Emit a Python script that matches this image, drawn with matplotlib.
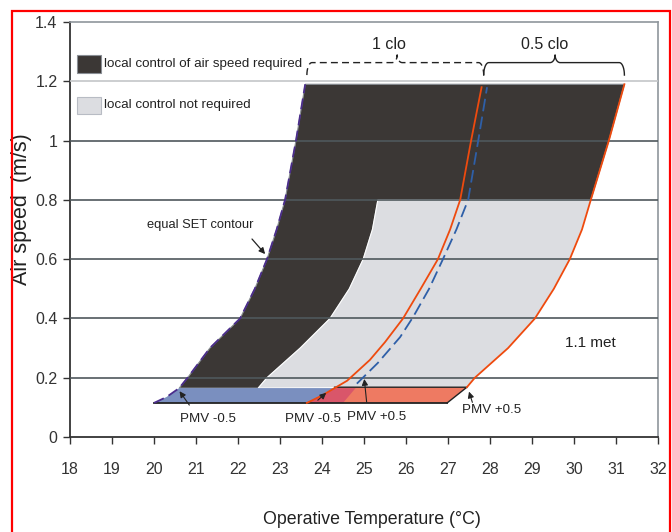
import numpy as np
import matplotlib.pyplot as plt
from matplotlib.patches import Polygon, Rectangle

plt.rcParams['font.family'] = ['Liberation Sans', 'DejaVu Sans']

# ==============================
# Data (temperature degC, air speed m/s)
# ==============================

# equal SET contour (left edge of the dark zone, dashed purple)
set_T = [20.0, 20.3, 20.6, 20.8, 21.33, 22.05, 22.4, 22.69, 22.92, 23.12, 23.38, 23.6]
set_v = [0.115, 0.135, 0.165, 0.2, 0.3, 0.4, 0.5, 0.6, 0.7, 0.8, 1.0, 1.19]

# inner edge between dark and light zone below 0.8 m/s
inner_T = [25.33, 25.2, 24.98, 24.65, 24.19, 23.48, 22.69, 22.48]
inner_v = [0.80, 0.7, 0.6, 0.5, 0.4, 0.3, 0.2, 0.165]

# 0.5 clo, PMV +0.5 (right orange line)
right_T = [27.45, 27.64, 28.43, 29.07, 29.52, 29.9, 30.19, 30.4, 30.83, 31.2]
right_v = [0.168, 0.2, 0.3, 0.4, 0.5, 0.6, 0.7, 0.8, 1.0, 1.19]

# left orange line
lo_T = [23.64, 24.0, 24.3, 24.6, 25.14, 25.5, 25.93, 26.35, 26.76, 27.05, 27.29, 27.55, 27.8]
lo_v = [0.115, 0.14, 0.165, 0.19, 0.26, 0.32, 0.4, 0.5, 0.6, 0.7, 0.8, 1.0, 1.18]

# blue dashed line
bd_T = [24.83, 25.33, 25.86, 26.17, 26.55, 26.88, 27.2, 27.48, 27.72, 27.93]
bd_v = [0.18, 0.25, 0.337, 0.405, 0.5, 0.6, 0.7, 0.8, 1.0, 1.18]

# still-air comfort bands at the bottom
band_low = 0.115
band_high = 0.168
blue_right = [24.5, 24.8]      # bottom, top
red_right = [26.98, 27.45]     # bottom, top

# clo braces: (start, tip, end)
clo_braces = [(23.64, 25.79, 27.85), (27.85, 29.55, 31.2)]
clo_labels = ["1 clo", "0.5 clo"]
clo_label_T = [25.6, 29.31]

pmv_labels = ["PMV -0.5", "PMV -0.5", "PMV +0.5", "PMV +0.5"]
pmv_text_pos = [(21.29, 0.061), (23.79, 0.061), (25.31, 0.067), (28.05, 0.091)]
pmv_arrow_tail = [(20.88, 0.10), (23.85, 0.118), (25.07, 0.108), (27.6, 0.108)]
pmv_arrow_head = [(20.57, 0.162), (24.15, 0.155), (25.0, 0.205), (27.48, 0.162)]

x_ticks = list(range(18, 33))
y_ticks = [0, 0.2, 0.4, 0.6, 0.8, 1.0, 1.2, 1.4]

dark = "#3b3735"
light = "#dcdde1"

fig = plt.figure(figsize=(6.72, 5.32), dpi=100)
ax = fig.add_axes([70 / 672, 1 - 437 / 532, 588 / 672, 415 / 532])

# ==============================
# Zones
# ==============================
dark_pts = list(zip(set_T[2:], set_v[2:])) + list(zip(right_T[::-1], right_v[::-1]))[:3] \
    + list(zip(inner_T, inner_v))
ax.add_patch(Polygon(dark_pts, closed=True, facecolor=dark, edgecolor="#8a8f95", lw=0.8, zorder=2))

light_pts = list(zip(inner_T[::-1], inner_v[::-1])) + list(zip(right_T[::-1], right_v[::-1]))[2:]
ax.add_patch(Polygon(light_pts, closed=True, facecolor=light, edgecolor="white", lw=0.8, zorder=2))

blue_pts = list(zip(set_T[:3], set_v[:3])) + [(blue_right[1], set_v[2]), (blue_right[0], band_low)]
ax.add_patch(Polygon(blue_pts, closed=True, facecolor="#7a8fbf", edgecolor="none", zorder=3))

red_pts = list(zip(lo_T[:3], lo_v[:3])) + [(lo_T[2], band_high), (red_right[1], band_high), (red_right[0], band_low)]
ax.add_patch(Polygon(red_pts, closed=True, facecolor="#ee7a62", edgecolor="none", zorder=3))

over_pts = list(zip(lo_T[:3], lo_v[:3])) + [(blue_right[1], lo_v[2]), (blue_right[0], band_low)]
ax.add_patch(Polygon(over_pts, closed=True, facecolor="#d9566a", edgecolor="none", zorder=3))

# outlines of the bottom band
ax.plot([set_T[0], red_right[0]], [band_low, band_low], color="#222222", lw=1.3, zorder=5)
ax.plot([lo_T[2], red_right[1], red_right[0]], [band_high, band_high, band_low], color="#222222", lw=1.0, zorder=5)

# grid lines above the zones
for y in y_ticks[1:-1]:
    ax.axhline(y, color="#c4c6c8" if y == 1.2 else "#4f585c", lw=1.2, zorder=4)

# ==============================
# Lines
# ==============================
ax.plot(set_T, set_v, color="#4b2d8c", lw=1.3, dashes=(6, 3), zorder=6)
ax.plot(lo_T, lo_v, color="#ee4a0e", lw=1.3, zorder=6)
ax.plot(right_T, right_v, color="#ee4a0e", lw=1.3, zorder=6)
ax.plot(bd_T, bd_v, color="#2e5fa8", lw=1.3, dashes=(7, 3), zorder=6)

# ==============================
# Braces
# ==============================
def brace(x0, xt, x1, ls):
    yb, ym, yt = 1.221, 1.263, 1.289
    d = 0.12
    a = np.linspace(0, np.pi / 2, 10)
    xs = np.concatenate([x0 + d * (1 - np.cos(a)), xt - d + d * np.sin(a),
                         xt + d - d * np.sin(a[::-1]), x1 - d * (1 - np.cos(a[::-1]))])
    ys = np.concatenate([yb + (ym - yb) * np.sin(a), ym + (yt - ym) * (1 - np.cos(a)),
                         ym + (yt - ym) * (1 - np.cos(a[::-1])), yb + (ym - yb) * np.sin(a[::-1])])
    ax.plot(xs, ys, color="#222222", lw=1.0, ls=ls, zorder=6, clip_on=False)

brace(*clo_braces[0], ls=(0, (5, 3)))
brace(*clo_braces[1], ls="-")
for lab, t in zip(clo_labels, clo_label_T):
    ax.text(t, 1.324, lab, ha="center", va="center", fontsize=11.5, color="#222222")

# ==============================
# Annotations
# ==============================
for lab, pos, tail, head in zip(pmv_labels, pmv_text_pos, pmv_arrow_tail, pmv_arrow_head):
    ax.text(pos[0], pos[1], lab, ha="center", va="center", fontsize=9.6, color="#222222", zorder=7)
    ax.annotate("", xy=head, xytext=tail, zorder=7,
                arrowprops=dict(arrowstyle="-|>", color="#222222", lw=0.8, mutation_scale=9))

ax.text(21.1, 0.715, "equal SET contour", ha="center", va="center", fontsize=9.3, color="#222222")
ax.annotate("", xy=(22.69, 0.61), xytext=(22.29, 0.675),
            arrowprops=dict(arrowstyle="-|>", color="#222222", lw=0.9, mutation_scale=9))
ax.text(30.38, 0.317, "1.1 met", ha="center", va="center", fontsize=11, color="#222222")

# legend boxes
ax.add_patch(Rectangle((0.0119, 0.877), 0.041, 0.043, transform=ax.transAxes,
                       facecolor=dark, edgecolor="#8a8f95", lw=0.8, zorder=7))
ax.add_patch(Rectangle((0.0119, 0.778), 0.041, 0.041, transform=ax.transAxes,
                       facecolor=light, edgecolor="#b8bcc4", lw=0.8, zorder=7))
ax.text(0.0578, 0.899, "local control of air speed required", transform=ax.transAxes,
        ha="left", va="center", fontsize=9.6, color="#222222")
ax.text(0.0578, 0.800, "local control not required", transform=ax.transAxes,
        ha="left", va="center", fontsize=9.6, color="#222222")

# ==============================
# Axes
# ==============================
ax.set_xlim(18, 32)
ax.set_ylim(0, 1.4)
ax.set_xticks(x_ticks)
ax.set_yticks(y_ticks)
ax.set_yticklabels(["%g" % y for y in y_ticks])
ax.tick_params(axis="both", direction="out", length=5, width=1.0, colors="#333333", labelsize=11.5)
ax.tick_params(axis="x", pad=13)
ax.tick_params(axis="y", pad=4)
for s in ["left", "bottom"]:
    ax.spines[s].set_color("#333333")
    ax.spines[s].set_linewidth(1.3)
for s in ["top", "right"]:
    ax.spines[s].set_color("#8f969c")
    ax.spines[s].set_linewidth(1.2)

fig.text(372 / 672, 1 - 520 / 532, "Operative Temperature (\u00b0C)", ha="center", va="center",
         fontsize=12.8, color="#222222")
fig.text(22 / 672, 1 - 209 / 532, "Air speed  (m/s)", ha="center", va="center",
         rotation=90, fontsize=15.5, color="#222222")

# red frame around the figure
fig.patches.append(Rectangle((12 / 672, -0.02), 658 / 672, 1 - 11 / 532 + 0.02, transform=fig.transFigure,
                             fill=False, edgecolor="red", lw=1.6, zorder=10))

fig.savefig("out.png", dpi=100)
